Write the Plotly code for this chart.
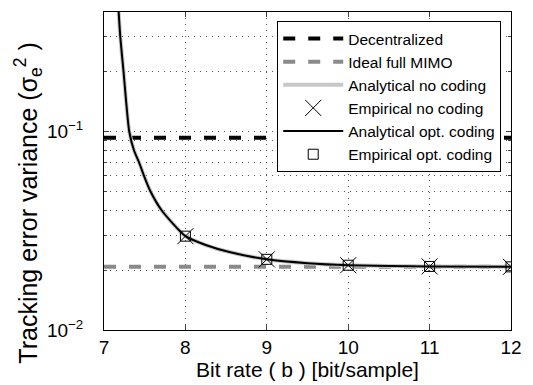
import plotly.graph_objects as go

# ---- data ----
bitrate_emp = [8, 9, 10, 11, 12]
emp_no_coding = [0.0297, 0.0227, 0.0212, 0.0209, 0.0208]
emp_opt_coding = [0.0297, 0.0227, 0.0212, 0.0209, 0.0208]

bitrate_an = [7.18, 7.20, 7.24, 7.31, 7.37, 7.43, 7.49, 7.57, 7.71, 8.0, 8.25, 8.54, 9.0, 9.5, 10.0, 11.0, 12.0]
an_no_coding = [0.40, 0.30, 0.20, 0.10, 0.080, 0.070, 0.060, 0.050, 0.040, 0.0297, 0.0268, 0.0247, 0.0227, 0.0217, 0.0212, 0.0209, 0.0208]
an_opt_coding = [0.40, 0.30, 0.20, 0.10, 0.080, 0.070, 0.060, 0.050, 0.040, 0.0297, 0.0268, 0.0247, 0.0227, 0.0217, 0.0212, 0.0209, 0.0208]

x_range = [7, 12]
decentralized = [0.093, 0.093]
ideal_mimo = [0.0208, 0.0208]

y_major = [0.01, 0.1]
y_major_text = ["10<sup>−2</sup>", "10<sup>−1</sup>"]
y_minor = [0.02, 0.03, 0.04, 0.05, 0.06, 0.07, 0.08, 0.09, 0.2, 0.3, 0.4]

FONT = "Liberation Sans, Arial, sans-serif"

fig = go.Figure()
fig.add_trace(go.Scatter(x=x_range, y=decentralized, mode="lines", name="Decentralized",
                         line=dict(color="black", width=4, dash="12px,13px")))
fig.add_trace(go.Scatter(x=x_range, y=ideal_mimo, mode="lines", name="Ideal full MIMO",
                         line=dict(color="#8a8a8a", width=4, dash="12px,13px")))
fig.add_trace(go.Scatter(x=bitrate_an, y=an_no_coding, mode="lines", name="Analytical no coding",
                         line=dict(color="#c8c8c8", width=4, shape="spline", smoothing=0.6)))
fig.add_trace(go.Scatter(x=bitrate_emp, y=emp_no_coding, mode="markers", name="Empirical no coding",
                         marker=dict(symbol="x-thin-open", size=16, color="black",
                                     line=dict(color="black", width=1))))
fig.add_trace(go.Scatter(x=bitrate_an, y=an_opt_coding, mode="lines", name="Analytical opt. coding",
                         line=dict(color="black", width=2, shape="spline", smoothing=0.6)))
fig.add_trace(go.Scatter(x=bitrate_emp, y=emp_opt_coding, mode="markers", name="Empirical opt. coding",
                         marker=dict(symbol="square-open", size=10, color="black",
                                     line=dict(color="black", width=1))))

grid = dict(showgrid=True, gridcolor="#555555", gridwidth=1, griddash="1px,5px")

fig.update_layout(
    width=533, height=385,
    margin=dict(l=104, r=11, t=11, b=55),
    paper_bgcolor="white", plot_bgcolor="white",
    font=dict(family=FONT, size=18, color="black"),
    showlegend=True,
    legend=dict(x=0.976, y=0.972, xanchor="right", yanchor="top",
                bgcolor="white", bordercolor="black", borderwidth=1,
                font=dict(family=FONT, size=15.5, color="black"),
                tracegroupgap=0, itemwidth=60),
    xaxis=dict(range=x_range, tickvals=[7, 8, 9, 10, 11, 12], ticks="inside", ticklen=5,
               showline=True, linecolor="black", linewidth=1, mirror="ticks",
               zeroline=False, tickfont=dict(size=19),
               title=dict(text="Bit rate ( b ) [bit/sample]", font=dict(size=21), standoff=2),
               **grid),
    yaxis=dict(type="log", range=[-2, -0.398], tickvals=y_major, ticktext=y_major_text,
               ticks="inside", ticklen=5, ticklabelstandoff=16,
               showline=True, linecolor="black", linewidth=1, mirror="ticks",
               zeroline=False, tickfont=dict(size=19),
               minor=dict(tickvals=y_minor, ticks="inside", ticklen=3, showgrid=True,
                          gridcolor="#555555", gridwidth=1, griddash="1px,5px"),
               **grid),
    annotations=[dict(text="Tracking error variance (σ<sub>e</sub><sup>2</sup> )",
                      xref="paper", yref="paper", x=-0.187, y=0.40,
                      xanchor="center", yanchor="middle", textangle=-90,
                      showarrow=False, font=dict(family=FONT, size=25, color="black"))],
)

fig.write_html("out.html")
